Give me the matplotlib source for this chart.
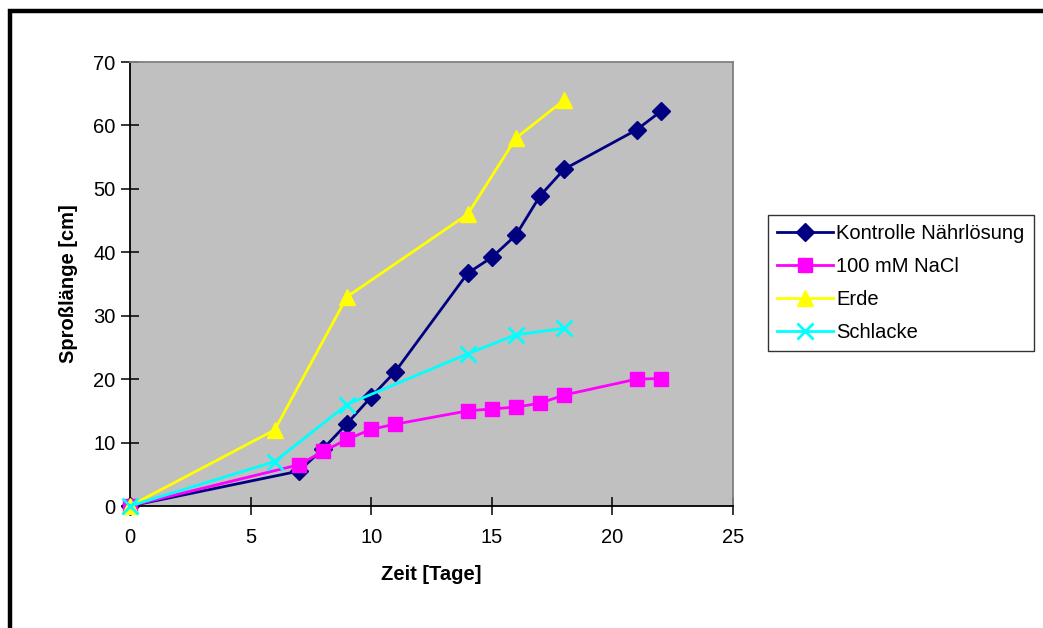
import matplotlib
matplotlib.use("Agg")
import matplotlib.pyplot as plt
from matplotlib.patches import Rectangle

plt.rcParams["font.family"] = ["Liberation Sans", "DejaVu Sans"]

# Sprosslänge über die Zeit, je Behandlung
tage_kontrolle = [0, 7, 8, 9, 10, 11, 14, 15, 16, 17, 18, 21, 22]
laenge_kontrolle = [0, 5.5, 9.0, 13.0, 17.2, 21.2, 36.7, 39.2, 42.7, 48.9, 53.1, 59.3, 62.2]

tage_nacl = [0, 7, 8, 9, 10, 11, 14, 15, 16, 17, 18, 21, 22]
laenge_nacl = [0, 6.5, 8.6, 10.5, 12.1, 12.9, 15.0, 15.3, 15.6, 16.2, 17.5, 20.0, 20.1]

tage_erde = [0, 6, 9, 14, 16, 18]
laenge_erde = [0, 12.0, 33.0, 46.0, 58.0, 64.0]

tage_schlacke = [0, 6, 9, 14, 16, 18]
laenge_schlacke = [0, 7.0, 16.0, 24.0, 27.0, 28.0]

W, H = 1043, 628
FS = 14.5
fig = plt.figure(figsize=(W / 100, H / 100), dpi=100)
fig.patch.set_facecolor("white")

# schwarzer Rahmen um das Diagramm (rechts und unten abgeschnitten)
fig.patches.append(Rectangle((9.5 / W, -0.05), 1.1, 1 - 11 / H + 0.05,
                             transform=fig.transFigure, fill=False,
                             ec="black", lw=3.2, zorder=0))

ax = fig.add_axes([130 / W, 1 - 506 / H, 603 / W, 444 / H])
ax.set_facecolor("#c0c0c0")

# spätere Reihen liegen oben
ax.plot(tage_kontrolle, laenge_kontrolle, color="#000080", lw=2, marker="D",
        ms=9, mec="#000080", label="Kontrolle Nährlösung", zorder=2, clip_on=False)
ax.plot(tage_nacl, laenge_nacl, color="#ff00ff", lw=2, marker="s",
        ms=10.5, mec="#ff00ff", label="100 mM NaCl", zorder=3, clip_on=False)
ax.plot(tage_erde, laenge_erde, color="#ffff00", lw=2, marker="^",
        ms=12, mec="#ffff00", label="Erde", zorder=4, clip_on=False)
ax.plot(tage_schlacke, laenge_schlacke, color="#00ffff", lw=2, marker="x",
        ms=11, mew=2, label="Schlacke", zorder=5, clip_on=False)

ax.set_xlim(0, 25)
ax.set_ylim(0, 70)
ax.set_xticks(range(0, 26, 5))
ax.set_yticks(range(0, 71, 10))
ax.tick_params(direction="inout", length=13, width=1.1, labelsize=FS,
               color="black", pad=4)
ax.tick_params(axis="x", pad=9)
for s in ("left", "bottom"):
    ax.spines[s].set_color("black")
    ax.spines[s].set_linewidth(1.3)
for s in ("top", "right"):
    ax.spines[s].set_color("#808080")
    ax.spines[s].set_linewidth(1.3)

ax.set_xlabel("Zeit [Tage]", fontsize=FS, fontweight="bold", labelpad=13)
ax.set_ylabel("Sproßlänge [cm]", fontsize=FS, fontweight="bold", labelpad=11)

leg = fig.legend(loc="upper left", bbox_to_anchor=(768 / W, 1 - 215 / H),
                 fontsize=FS, frameon=True, fancybox=False, handlelength=2.8,
                 handletextpad=0.15, borderpad=0.45, labelspacing=0.7,
                 borderaxespad=0)
leg.get_frame().set_edgecolor("black")
leg.get_frame().set_linewidth(1.0)

fig.savefig("out.png", dpi=100, facecolor="white")
